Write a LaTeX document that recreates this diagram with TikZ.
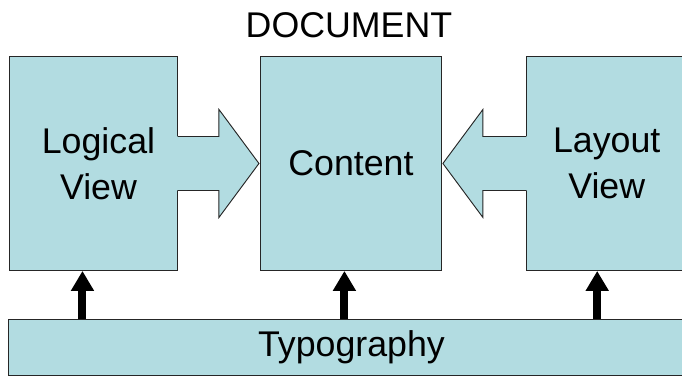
\documentclass[tikz,border=0pt]{standalone}
\usepackage{fontspec}
\setmainfont{Liberation Sans}
\usetikzlibrary{positioning,calc,arrows.meta}
\definecolor{viewblue}{RGB}{178,220,225}
\tikzset{node distance=2.46cm, % Gap between the boxes of the top row
        every node/.style={ % One large sans serif size for all labels
            font=\fontsize{30.5}{39}\selectfont},
        panel/.style={ % Sets the properties for each box
            draw=black!85,
            line width=0.8pt,
            fill=viewblue,
            minimum height=6.42cm,
            align=center,
            inner sep=0pt},
        outline/.style={ % Border of the block arrows
            draw=black!85,
            line width=0.8pt,
            line join=miter},
        lift/.style={ % Thick arrows coming up from the bar
            line width=0.24cm,
            -{Triangle[width=0.66cm,length=0.6cm]}}
        }
\begin{document}
\begin{tikzpicture}[x=0.03cm, y=-0.03cm]
    \useasboundingbox (0,0) rectangle (682,376);
    \clip (0,0) rectangle (682,376);

    \node[panel, minimum width=5.04cm, anchor=north west] (logical) at (9,56) {\hspace*{0.3cm}Logical\\\hspace*{0.3cm}View};
    \node[panel, minimum width=5.43cm] (content) [right=of logical] {Content};
    \node[panel, minimum width=4.82cm] (layout) [right=2.52cm of content] {Layout\\View};
    \node[anchor=base] (doc) at ($(content.north)+(-2,-18)$) {DOCUMENT};
    \node[panel, minimum width=20.58cm, minimum height=1.68cm, anchor=north west] (typo) at (8,319) {Typography};

    % block arrows into the content box
    \fill[viewblue] ($(logical.east)+(-2,-27)$) -- ++(43,0) -- ++(0,-27) -- ++(40,54)
        -- ++(-40,54) -- ++(0,-27) -- ++(-43,0) -- cycle;
    \draw[outline] ($(logical.east)+(0,-27)$) -- ++(41,0) -- ++(0,-27) -- ++(40,54)
        -- ++(-40,54) -- ++(0,-27) -- ++(-41,0);
    \fill[viewblue] ($(layout.west)+(2,-27)$) -- ++(-45,0) -- ++(0,-27) -- ++(-40,54)
        -- ++(40,54) -- ++(0,-27) -- ++(45,0) -- cycle;
    \draw[outline] ($(layout.west)+(0,-27)$) -- ++(-43,0) -- ++(0,-27) -- ++(-40,54)
        -- ++(40,54) -- ++(0,-27) -- ++(43,0);

    % arrows from typography up to each box
    \coordinate (lfoot) at ($(logical.south)+(-11,0)$);
    \coordinate (cfoot) at ($(content.south)+(-6.5,0)$);
    \coordinate (rfoot) at ($(layout.south)+(-9.5,0)$);
    \draw[lift] (lfoot |- typo.north) -- (lfoot);
    \draw[lift] (cfoot |- typo.north) -- (cfoot);
    \draw[lift] (rfoot |- typo.north) -- (rfoot);
\end{tikzpicture}
\end{document}
